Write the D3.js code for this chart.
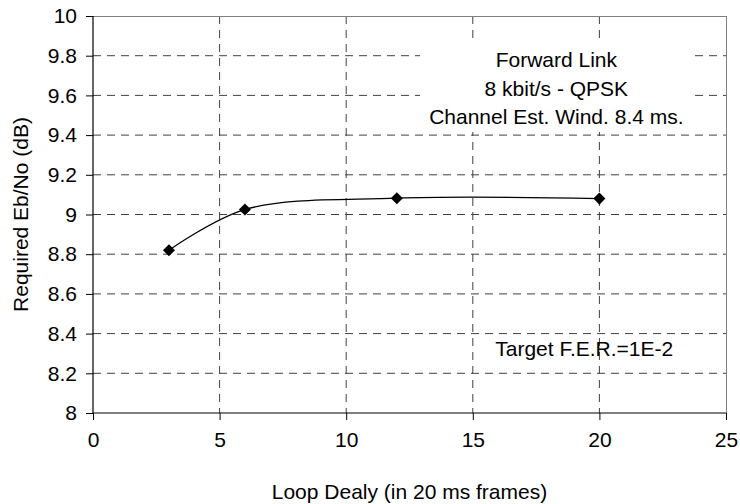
<!DOCTYPE html>
<html>
<head>
<meta charset="utf-8">
<script src="https://cdn.jsdelivr.net/npm/d3@7"></script>
<style>
  html, body { margin: 0; padding: 0; background: #fff; }
  svg { display: block; font-family: "Liberation Sans", Arial, sans-serif; }
</style>
</head>
<body>
<svg id="chart" width="740" height="504"></svg>
<script>
// ---- data ----
const loopDelay = [3, 6, 12, 20];
const requiredEbNo = [8.82, 9.025, 9.082, 9.08];
const xTicks = [0, 5, 10, 15, 20, 25];
const yTicks = [8, 8.2, 8.4, 8.6, 8.8, 9, 9.2, 9.4, 9.6, 9.8, 10];
const annotationLines = ["Forward Link", "8 kbit/s - QPSK", "Channel Est. Wind. 8.4 ms."];
const targetLabel = "Target F.E.R.=1E-2";
const xTitle = "Loop Dealy (in 20 ms frames)";
const yTitle = "Required Eb/No (dB)";

// ---- layout ----
const svg = d3.select("#chart");
const L = 93, R = 726, T = 16, B = 413;
const x = d3.scaleLinear().domain([0, 25]).range([L, R]);
const y = d3.scaleLinear().domain([8, 10]).range([B, T]);
const fs = 21;

// gridlines
const grid = svg.append("g");
grid.selectAll("line.h").data(yTicks.filter(v => v > 8 && v < 10)).enter().append("line")
  .attr("x1", L).attr("x2", R).attr("y1", d => y(d)).attr("y2", d => y(d))
  .attr("stroke", "#404040").attr("stroke-width", 1).attr("stroke-dasharray", "8,6");
grid.selectAll("line.v").data(xTicks.filter(v => v > 0 && v < 25)).enter().append("line")
  .attr("x1", d => x(d)).attr("x2", d => x(d)).attr("y1", T).attr("y2", B)
  .attr("stroke", "#404040").attr("stroke-width", 1).attr("stroke-dasharray", "8,6");

// plot border (top/right grey)
svg.append("line").attr("x1", L).attr("x2", R).attr("y1", T + 0.5).attr("y2", T + 0.5)
  .attr("stroke", "#808080").attr("stroke-width", 1);
svg.append("line").attr("x1", R + 0.5).attr("x2", R + 0.5).attr("y1", T).attr("y2", B)
  .attr("stroke", "#808080").attr("stroke-width", 1);

// annotation box (white background)
const annCx = x(18.3);
svg.append("rect").attr("x", 420).attr("y", 38).attr("width", 275).attr("height", 94).attr("fill", "#fff");
svg.append("g").selectAll("text").data(annotationLines).enter().append("text")
  .attr("x", annCx).attr("y", (d, i) => 67 + i * 28.5)
  .attr("text-anchor", "middle").attr("font-size", fs).attr("fill", "#000")
  .text(d => d);

svg.append("text").attr("x", x(19.4)).attr("y", 356).attr("text-anchor", "middle")
  .attr("font-size", fs).attr("fill", "#000").text(targetLabel);

// axes
const xAxis = d3.axisBottom(x).tickValues(xTicks).tickSize(7).tickPadding(12).tickFormat(d3.format("d"));
const yAxis = d3.axisLeft(y).tickValues(yTicks).tickSize(7).tickPadding(9).tickFormat(d => d3.format("")(+d.toFixed(1)));
const gx = svg.append("g").attr("transform", `translate(0,${B})`).call(xAxis);
const gy = svg.append("g").attr("transform", `translate(${L},0)`).call(yAxis);
[gx, gy].forEach(g => {
  g.select(".domain").attr("stroke", "#000").attr("stroke-width", 1.2);
  g.selectAll(".tick line").attr("stroke", "#000");
  g.selectAll(".tick text").attr("font-size", fs).attr("fill", "#000")
    .attr("font-family", "'Liberation Sans', Arial, sans-serif");
});
gy.select(".domain").attr("d", `M0,${T}V${B}`);
gx.select(".domain").attr("d", `M${L},0H${R}`);

// line
const pts = loopDelay.map((d, i) => [d, requiredEbNo[i]]);
const line = d3.line().x(d => x(d[0])).y(d => y(d[1])).curve(d3.curveCatmullRom.alpha(0.5));
svg.append("path").datum(pts).attr("d", line).attr("fill", "none")
  .attr("stroke", "#000").attr("stroke-width", 1.3);

// markers
const sym = d3.symbol().type(d3.symbolDiamond2).size(92);
svg.append("g").selectAll("path").data(pts).enter().append("path")
  .attr("transform", d => `translate(${x(d[0])},${y(d[1])})`)
  .attr("d", sym).attr("fill", "#000");

// titles
svg.append("text").attr("x", (L + R) / 2 - 0).attr("y", 499).attr("text-anchor", "middle")
  .attr("font-size", fs).attr("fill", "#000").text(xTitle);
svg.append("text").attr("transform", `translate(28,${(T + B) / 2}) rotate(-90)`)
  .attr("text-anchor", "middle").attr("font-size", fs).attr("fill", "#000").text(yTitle);
</script>
</body>
</html>
